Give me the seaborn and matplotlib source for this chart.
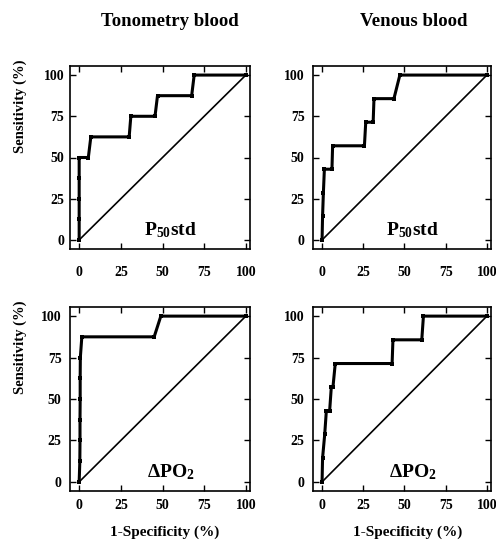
import matplotlib
matplotlib.use("Agg")
import matplotlib.pyplot as plt
import seaborn as sns
import pandas as pd

# ---- data (1-specificity %, sensitivity %) ----
tono_p50_x = [0, 0, 0, 0, 0, 5.5, 7, 30, 31, 45.5, 47, 67.5, 69, 100]
tono_p50_y = [0, 12.5, 25, 37.5, 50, 50, 62.5, 62.5, 75, 75, 87.5, 87.5, 100, 100]

ven_p50_x = [0, 0.3, 0.8, 1.4, 6, 6.4, 25.7, 26.5, 31, 31.5, 43.6, 47.2, 100]
ven_p50_y = [0, 14.3, 28.6, 42.9, 42.9, 57.1, 57.1, 71.4, 71.4, 85.7, 85.7, 100, 100]

tono_dpo2_x = [0, 0.4, 0.5, 0.5, 0.6, 0.6, 0.7, 1.6, 45, 49, 100]
tono_dpo2_y = [0, 12.5, 25, 37.5, 50, 62.5, 75, 87.5, 87.5, 100, 100]

ven_dpo2_x = [0, 0.3, 1.6, 2.6, 4.6, 5.6, 6.6, 8, 42.5, 43, 60.5, 61.5, 100]
ven_dpo2_y = [0, 14.3, 28.6, 42.9, 42.9, 57.1, 57.1, 71.4, 71.4, 85.7, 85.7, 100, 100]

ref_x = [0, 100]
ref_y = [0, 100]

ticks = [0, 25, 50, 75, 100]
col_titles = ["Tonometry blood", "Venous blood"]
panel_labels = [r"$\mathbf{P_{50}std}$", r"$\mathbf{P_{50}std}$",
                r"$\mathbf{\Delta PO_2}$", r"$\mathbf{\Delta PO_2}$"]
ylabel = "Sensitivity (%)"
xlabel = "1-Specificity (%)"

sns.set_style("ticks")
plt.rcParams["font.family"] = ["Liberation Serif", "DejaVu Serif"]
plt.rcParams["font.weight"] = "bold"
plt.rcParams["text.color"] = "black"
plt.rcParams["mathtext.fontset"] = "custom"
plt.rcParams["mathtext.rm"] = "Liberation Serif:bold"
plt.rcParams["mathtext.bf"] = "Liberation Serif:bold"
plt.rcParams["mathtext.it"] = "Liberation Serif:bold"

W, H = 496, 541
fig = plt.figure(figsize=(W / 100, H / 100), dpi=100)

def box(l, t, r, b):
    return [l / W, 1 - b / H, (r - l) / W, (b - t) / H]

axes = [
    fig.add_axes(box(70, 66, 250, 249)),
    fig.add_axes(box(313, 66, 491, 249)),
    fig.add_axes(box(70, 307, 250, 491)),
    fig.add_axes(box(313, 307, 491, 491)),
]

curves = [(tono_p50_x, tono_p50_y), (ven_p50_x, ven_p50_y),
          (tono_dpo2_x, tono_dpo2_y), (ven_dpo2_x, ven_dpo2_y)]

for i, (ax, (cx, cy)) in enumerate(zip(axes, curves)):
    df = pd.DataFrame({"x": cx, "y": cy})
    sns.lineplot(data=df, x="x", y="y", ax=ax, sort=False, estimator=None,
                 color="black", linewidth=2.2, marker="s", markersize=3,
                 markeredgewidth=0)
    ref = pd.DataFrame({"x": ref_x, "y": ref_y})
    sns.lineplot(data=ref, x="x", y="y", ax=ax, sort=False, estimator=None,
                 color="black", linewidth=1.2)
    ax.set_xlim(-5.5, 102.5)
    ax.set_ylim(-5.5, 105.5)
    ax.set_xticks(ticks)
    ax.set_yticks(ticks)
    ax.set_xlabel("")
    ax.set_ylabel("")
    ax.tick_params(direction="in", top=True, right=True, length=4, width=1,
                   labelsize=10, colors="black")
    ax.tick_params(axis="x", pad=12 if i < 2 else 6)
    ax.tick_params(axis="y", pad=4 if i == 0 else 6)
    for lab in ax.get_xticklabels() + ax.get_yticklabels():
        lab.set_fontweight("bold")
    for s in ax.spines.values():
        s.set_linewidth(1.2)
        s.set_color("black")
    ax.text(55, 3, panel_labels[i], ha="center", va="baseline", fontsize=14,
            color="black")

fig.text(170 / W, 1 - 22 / H, col_titles[0], ha="center", va="center",
         fontsize=13.5, fontweight="bold")
fig.text(414 / W, 1 - 22 / H, col_titles[1], ha="center", va="center",
         fontsize=13.5, fontweight="bold")
for yc in (106, 347):
    fig.text(20 / W, 1 - yc / H, ylabel, rotation=90, ha="center", va="center",
             fontsize=10.5, fontweight="bold")
for xc in (165, 408):
    fig.text(xc / W, 1 - 532 / H, xlabel, ha="center", va="center",
             fontsize=11, fontweight="bold")

fig.savefig("out.png", dpi=100)
